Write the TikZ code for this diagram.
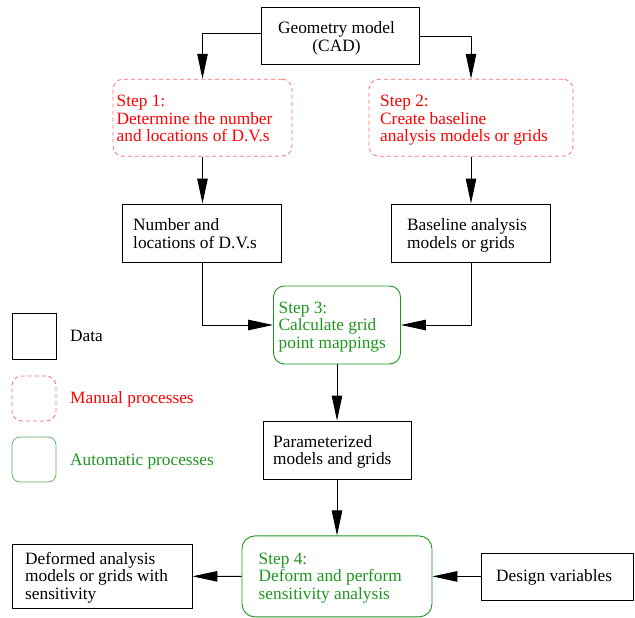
\documentclass[tikz,border=0pt]{standalone}
\usepackage{fontspec}
\setmainfont{Liberation Serif}
\usetikzlibrary{arrows.meta}
\definecolor{stepred}{RGB}{255,0,0}
\definecolor{dashred}{RGB}{255,110,110}
\definecolor{autogreen}{RGB}{30,150,30}
\definecolor{lightgreen}{RGB}{90,175,90}
\tikzset{
  databox/.style={draw=black, line width=0.9pt, inner sep=0pt},
  manbox/.style={draw=dashred, line width=0.8pt, dash pattern=on 4pt off 3pt, rounded corners=10pt, inner sep=0pt},
  autobox/.style={draw=autogreen, line width=0.9pt, rounded corners=11pt, inner sep=0pt},
  txt/.style={anchor=base west, align=left, inner sep=0pt, font=\fontsize{17.3}{17.4}\selectfont},
  arr/.style={draw=black, line width=0.9pt, -{Triangle[length=25pt,width=10.5pt]}},
}
\begin{document}
\begin{tikzpicture}[x=1pt,y=-1pt]
\useasboundingbox (0,0) rectangle (635,618);
% boxes
\node[databox, minimum width=158, minimum height=57] (geo) at (340,35.5) {};
\node[manbox, minimum width=179, minimum height=77] (s1) at (202.5,117.7) {};
\node[manbox, minimum width=204, minimum height=77] (s2) at (471,117.7) {};
\node[databox, minimum width=159, minimum height=58] (num) at (202,233) {};
\node[databox, minimum width=159, minimum height=58] (base) at (471,233) {};
\node[autobox, minimum width=127, minimum height=78] (s3) at (337,325) {};
\node[databox, minimum width=148, minimum height=58] (par) at (337,450) {};
\node[autobox, minimum width=190, minimum height=81, rounded corners=13pt] (s4) at (337,576.4) {};
\node[databox, minimum width=180, minimum height=64] (def) at (102,576.3) {};
\node[databox, minimum width=152, minimum height=47] (des) at (557.5,576.5) {};
% legend
\node[databox, minimum width=44, minimum height=46] (legd) at (34,336) {};
\node[manbox, minimum width=44, minimum height=45] (legm) at (34,398.5) {};
\node[autobox, draw=lightgreen, line width=0.7pt, rounded corners=8pt, minimum width=44, minimum height=45] (lega) at (34,459.5) {};
% texts (base anchor = baseline of last line)
\node[txt, anchor=base, align=center] (tgeo) at (336.5,51.2) {Geometry model\\(CAD)};
\node[txt, text=stepred] (ts1) at (116.5,141.5) {Step 1:\\Determine the number\\and locations of D.V.s};
\node[txt, text=stepred] (ts2) at (380,141.5) {Step 2:\\Create baseline\\analysis models or grids};
\node[txt] (tnum) at (133,248) {Number and\\locations of D.V.s};
\node[txt] (tbase) at (407,248) {Baseline analysis\\models or grids};
\node[txt, text=autogreen] (ts3) at (278.5,348) {Step 3:\\Calculate grid\\point mappings};
\node[txt] (tpar) at (273,464.5) {Parameterized\\models and grids};
\node[txt, text=autogreen] (ts4) at (258.5,599) {Step 4:\\Deform and perform\\sensitivity analysis};
\node[txt] (tdef) at (25,599) {Deformed analysis\\models or grids with\\sensitivity};
\node[txt] (tdes) at (496,581.7) {Design variables};
\node[txt] (tlegd) at (70,341.7) {Data};
\node[txt, text=stepred] (tlegm) at (70,403) {Manual processes};
\node[txt, text=autogreen] (tlega) at (70,465) {Automatic processes};
% connectors
\draw[arr] ([yshift=2pt]geo.west) -| (s1.north);
\draw[arr] ([yshift=-1pt]geo.east) -| (s2.north);
\draw[arr] (s1.south) -- (s1.south |- num.north);
\draw[arr] (s2.south) -- (s2.south |- base.north);
\draw[arr] (num.south) |- (s3.west);
\draw[arr] (base.south) |- (s3.east);
\draw[arr] (s3.south) -- (par.north);
\draw[arr] (par.south) -- (s4.north);
\draw[arr] (s4.west) -- (def.east);
\draw[arr] (des.west) -- (s4.east);
\end{tikzpicture}
\end{document}
